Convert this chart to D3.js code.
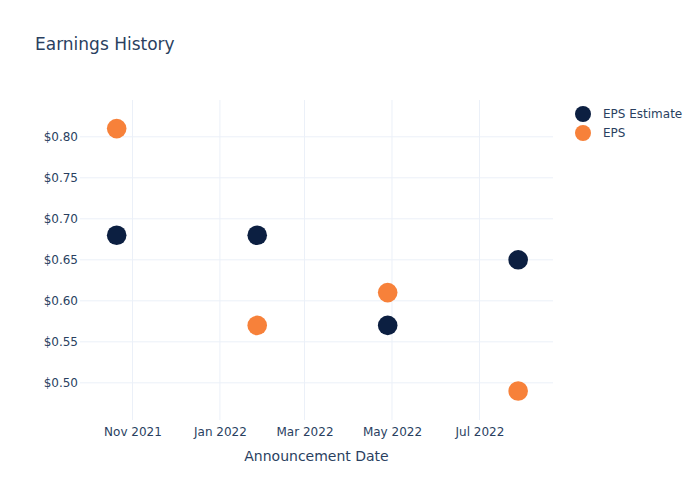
<!DOCTYPE html>
<html><head><meta charset="utf-8">
<script src="https://cdn.jsdelivr.net/npm/d3@7"></script>
<style>body{margin:0;background:#fff}svg{font-family:"DejaVu Sans",verdana,arial,sans-serif}</style>
</head><body>
<svg id="c" width="700" height="500"></svg>
<script>
const dates = ["2021-10-21","2022-01-27","2022-04-28","2022-07-28"];
const epsEstimate = [0.68, 0.68, 0.57, 0.65];
const eps = [0.81, 0.57, 0.61, 0.49];
const yTicks = [0.50,0.55,0.60,0.65,0.70,0.75,0.80];
const xTicks = ["2021-11-01","2022-01-01","2022-03-01","2022-05-01","2022-07-01"];
const seriesNames = ["EPS Estimate","EPS"];
const colors = ["#0c1f41","#f7813a"];

const parse = d3.utcParse("%Y-%m-%d");
const svg = d3.select("#c");
const L=80,R=553,T=100,B=420;
const x = d3.scaleUtc().domain([new Date(Date.UTC(2021,8,25,10)), new Date(Date.UTC(2022,7,21,7))]).range([L,R]);
const y = d3.scaleLinear().domain([0.4537,0.8439]).range([B+0.8,T+0.8]);
const txt="#2a3f5f";
const ff="'DejaVu Sans',verdana,arial,sans-serif";

// grid
svg.append("g").selectAll("line").data(xTicks).join("line")
 .attr("x1",d=>x(parse(d))).attr("x2",d=>x(parse(d))).attr("y1",T).attr("y2",B)
 .attr("stroke","#ebf0f8").attr("stroke-width",1);
svg.append("g").selectAll("line").data(yTicks).join("line")
 .attr("x1",L).attr("x2",R).attr("y1",d=>y(d)).attr("y2",d=>y(d))
 .attr("stroke","#ebf0f8").attr("stroke-width",1);

// axes
const yAxis = d3.axisLeft(y).tickValues(yTicks).tickFormat(d=>"$"+d.toFixed(2)).tickSize(0).tickPadding(2);
const gy = svg.append("g").attr("transform",`translate(${L},0)`).call(yAxis);
const xAxis = d3.axisBottom(x).tickValues(xTicks.map(parse)).tickFormat(d3.utcFormat("%b %Y")).tickSize(0).tickPadding(7);
const gx = svg.append("g").attr("transform",`translate(0,${B})`).call(xAxis);
[gx,gy].forEach(g=>{g.select(".domain").remove();g.selectAll("text").attr("fill",txt).style("font-size","12px").style("font-family",ff);});

// points
const series=[epsEstimate,eps];
series.forEach((vals,i)=>{
 svg.append("g").selectAll("circle").data(vals).join("circle")
  .attr("cx",(d,j)=>x(parse(dates[j]))).attr("cy",d=>y(d)).attr("r",9.8)
  .attr("fill",colors[i]);
});

// title
svg.append("text").attr("x",35).attr("y",50).text("Earnings History").attr("fill",txt).style("font-size","17px");
svg.append("text").attr("x",(L+R)/2).attr("y",461).attr("text-anchor","middle").text("Announcement Date").attr("fill",txt).style("font-size","14px");

// legend
const lg = svg.append("g");
seriesNames.forEach((n,i)=>{
 lg.append("circle").attr("cx",583).attr("cy",114+i*19).attr("r",8).attr("fill",colors[i]);
 lg.append("text").attr("x",603).attr("y",118+i*19).text(n).attr("fill",txt).style("font-size","12px");
});
</script>
</body></html>
